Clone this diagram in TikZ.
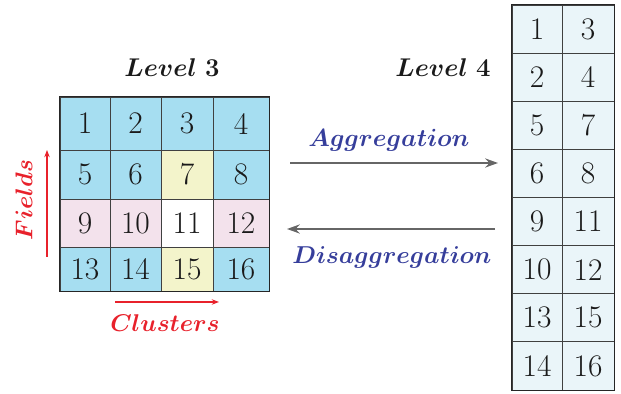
\documentclass[tikz,border=0pt]{standalone}
\usepackage{graphicx}
\usepackage{amsmath,bm}
\usetikzlibrary{arrows.meta}
\definecolor{cblue}{HTML}{A6DEF1}
\definecolor{cyel}{HTML}{F3F4CB}
\definecolor{cpink}{HTML}{F3E2EC}
\definecolor{cwhite}{HTML}{FFFFFF}
\definecolor{clight}{HTML}{EAF5F9}
\definecolor{tblue}{HTML}{363E9B}
\definecolor{tred}{HTML}{E8212B}
\definecolor{agray}{HTML}{666666}
\definecolor{tdark}{HTML}{1A1A1A}
\begin{document}
\begin{tikzpicture}[x=0.55pt,y=-0.55pt,
  cell/.style={draw=black!75, line width=0.5pt, inner sep=0pt, text=tdark, font=\fontsize{17.28}{20}\selectfont},
  title/.style={text=tdark, font=\Large},
  optext/.style={text=tblue, font=\large},
  axtext/.style={text=tred, font=\large},
  oparrow/.style={draw=agray, line width=1pt, -{Stealth[length=7pt,width=5pt]}},
  axarrow/.style={draw=tred, line width=0.6pt, -{Stealth[length=4pt,width=3pt]}}]
\useasboundingbox (0,0) rectangle (621,394);
% Level 3 grid
\foreach \n/\xa/\xb/\ya/\yb/\col in {
  1/60/110/97/150/cblue, 2/110/161/97/150/cblue, 3/161/213/97/150/cblue, 4/213/269/97/150/cblue,
  5/60/110/150/199/cblue, 6/110/161/150/199/cblue, 7/161/213/150/199/cyel, 8/213/269/150/199/cblue,
  9/60/110/199/247/cpink, 10/110/161/199/247/cpink, 11/161/213/199/247/cwhite, 12/213/269/199/247/cpink,
  13/60/110/247/291/cblue, 14/110/161/247/291/cblue, 15/161/213/247/291/cyel, 16/213/269/247/291/cblue}
  \node[cell, fill=\col, minimum width={(\xb-\xa)*0.55pt}, minimum height={(\yb-\ya)*0.55pt}]
    (c\n) at ({(\xa+\xb)/2},{(\ya+\yb)/2}) {\n};
\draw[line width=1pt, draw=black!85] (c1.north west) rectangle (c16.south east);
% Level 4 column
\foreach \r/\a/\b in {0/1/3, 1/2/4, 2/5/7, 3/6/8, 4/9/11, 5/10/12, 6/13/15, 7/14/16} {
  \node[cell, fill=clight, minimum width={50*0.55pt}, minimum height={48.125*0.55pt}]
    (d\a) at (537,{5+48.125*\r+24.06}) {\a};
  \node[cell, fill=clight, minimum width={52*0.55pt}, minimum height={48.125*0.55pt}]
    (d\b) at (588,{5+48.125*\r+24.06}) {\b};
}
\draw[line width=1pt, draw=black!85] (d1.north west) rectangle (d16.south east);
% titles
\node[title] (l3) at (172,68) {\scalebox{0.98}{$\boldsymbol{Level\ 3}$}};
\node[title] (l4) at (443,68) {\scalebox{0.98}{$\boldsymbol{Level\ 4}$}};
% operations
\coordinate (a1) at (290,163);
\coordinate (a2) at (498,163);
\coordinate (b1) at (495,229);
\coordinate (b2) at (287,229);
\draw[oparrow] (a1) -- (a2);
\draw[oparrow] (b1) -- (b2);
\node[optext] (agg) at (389,140) {\scalebox{1.14}{$\boldsymbol{Aggregation}$}};
\node[optext] (dis) at (392,257) {\scalebox{1.12}{$\boldsymbol{Disaggregation}$}};
% axes
\coordinate (f1) at (47,257);
\coordinate (f2) at (47,150);
\coordinate (k1) at (115,302);
\coordinate (k2) at (219,302);
\draw[axarrow] (f1) -- (f2);
\draw[axarrow] (k1) -- (k2);
\node[axtext, rotate=90] (fields) at (24,200) {\scalebox{1.11}{$\boldsymbol{Fields}$}};
\node[axtext] (clusters) at (165,323) {\scalebox{1.11}{$\boldsymbol{Clusters}$}};
\end{tikzpicture}
\end{document}
